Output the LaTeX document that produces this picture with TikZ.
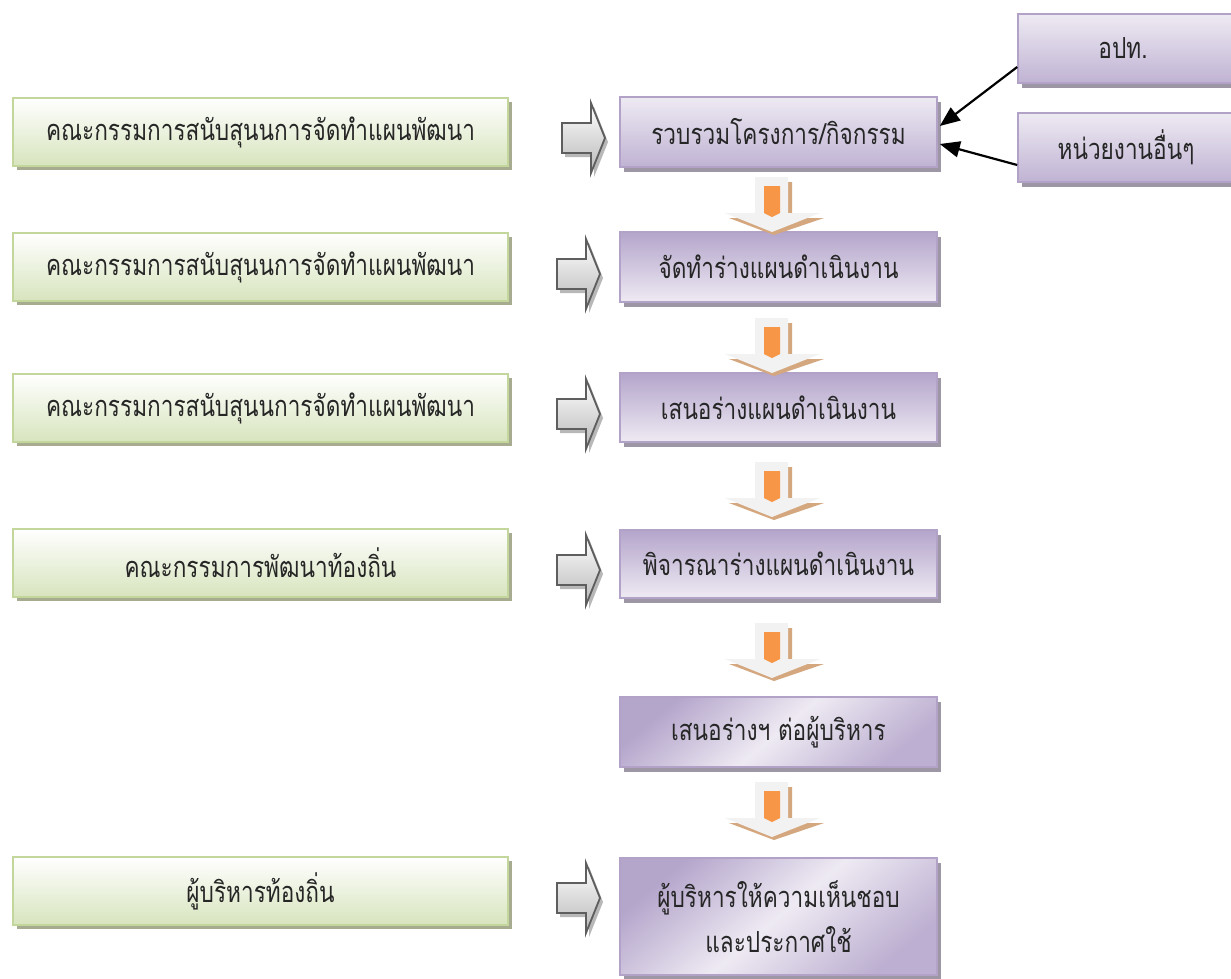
\documentclass[tikz,border=0pt]{standalone}
\usepackage{fontspec}
\newfontfamily\thaifont[Script=Thai,FakeStretch=0.78]{Loma}
\usetikzlibrary{shadows,calc,arrows.meta}
\definecolor{gborder}{HTML}{C3D69B}
\definecolor{gbot}{HTML}{D7E4BD}
\definecolor{gshadow}{HTML}{A7AC90}
\definecolor{pborder}{HTML}{B3A2C7}
\definecolor{pdark}{HTML}{B4A5CB}
\definecolor{plight}{HTML}{EEEAF3}
\definecolor{pshadow}{HTML}{9D97A5}
\definecolor{arrgrey}{HTML}{5E5E5E}
\definecolor{arrshadow}{HTML}{B8B8B8}
\definecolor{tan}{HTML}{D4A77F}
\definecolor{oarr}{HTML}{F79646}
\definecolor{warr}{HTML}{F2F2F2}
\tikzset{
  txt/.style={font=\thaifont\fontsize{29}{34}\selectfont, text=black!85, inner sep=0pt},
  gbox/.style={txt, draw=gborder, line width=1.6pt, top color=white, bottom color=gbot,
    minimum width=495pt, minimum height=68pt,
    drop shadow={shadow xshift=4pt, shadow yshift=-4pt, fill=gshadow, opacity=1}},
  pbase/.style={txt, draw=pborder, line width=1.6pt, minimum width=317pt,
    drop shadow={shadow xshift=4pt, shadow yshift=-5pt, fill=pshadow, opacity=1}},
  pup/.style={pbase, top color=plight, bottom color=pdark!80!plight},
  pdown/.style={pbase, top color=pdark, bottom color=plight},
  pdiag/.style={pbase, top color=pdark, bottom color=pdark!85!plight, middle color=plight, shading angle=40},
  conn/.style={line width=2.2pt, -{Triangle[length=20pt,width=16pt]}},
}
\newcommand\greyblockarrow[2]{%
  \fill[arrshadow] (#1+3,#2-15+4) -- (#1+29+3,#2-15+4) -- (#1+29+3,#2-35+4) -- (#1+43+3,#2+4)
    -- (#1+29+3,#2+35+4) -- (#1+29+3,#2+15+4) -- (#1+3,#2+15+4) -- cycle;
  \draw[arrgrey, line width=1.8pt, line join=miter, top color=white, bottom color=black!28]
    (#1,#2-15) -- (#1+29,#2-15) -- (#1+29,#2-35) -- (#1+43,#2)
    -- (#1+29,#2+35) -- (#1+29,#2+15) -- (#1,#2+15) -- cycle;}
\newcommand\orangedownarrow[1]{%
  \fill[tan] (755+4,#1+5) -- (788+4,#1+5) -- (788+4,#1+36+5) -- (820+4,#1+36+5) -- (772+2,#1+55+3)
    -- (725+4,#1+36+5) -- (755+4,#1+36+5) -- cycle;
  \fill[warr] (755,#1) -- (788,#1) -- (788,#1+36) -- (820,#1+36) -- (772,#1+55)
    -- (725,#1+36) -- (755,#1+36) -- cycle;
  \fill[oarr] (764,#1+9) -- (780,#1+9) -- (780,#1+36) -- (772,#1+40) -- (764,#1+36) -- cycle;}
\begin{document}
\begin{tikzpicture}[x=1pt,y=-1pt]
\useasboundingbox[fill=white] (0,0) rectangle (1231,978);
% left green boxes
\node[gbox] (g1) at (260.5,132) {คณะกรรมการสนับสุนนการจัดทำแผนพัฒนา};
\node[gbox] (g2) at (260.5,267) {คณะกรรมการสนับสุนนการจัดทำแผนพัฒนา};
\node[gbox] (g3) at (260.5,408) {คณะกรรมการสนับสุนนการจัดทำแผนพัฒนา};
\node[gbox] (g4) at (260.5,563) {คณะกรรมการพัฒนาท้องถิ่น};
\node[gbox] (g5) at (260.5,891) {ผู้บริหารท้องถิ่น};
% purple process boxes
\node[pup,   minimum height=70pt] (p1) at (778.5,132) {รวบรวมโครงการ/กิจกรรม};
\node[pdown, minimum height=70pt] (p2) at (778.5,267) {จัดทำร่างแผนดำเนินงาน};
\node[pdown, minimum height=69pt] (p3) at (778.5,407.5) {เสนอร่างแผนดำเนินงาน};
\node[pdown, minimum height=68pt] (p4) at (778.5,564) {พิจารณาร่างแผนดำเนินงาน};
\node[pdiag, minimum height=70pt] (p5) at (778.5,732) {เสนอร่างฯ ต่อผู้บริหาร};
\node[pdiag, minimum height=117pt, align=center, font=\thaifont\fontsize{29}{45}\selectfont] (p6) at (778.5,916.5) {ผู้บริหารให้ความเห็นชอบ\\และประกาศใช้};
% right boxes
\node[pup, minimum width=224pt, minimum height=69pt] (r1) at (1130,48.5) {\hspace*{-14pt}อปท.};
\node[pup, minimum width=224pt, minimum height=69pt] (r2) at (1130,147.5) {\hspace*{-8pt}หน่วยงานอื่นๆ};
% black connectors
\draw[conn] ($(r1.west)+(0,18.5)$) -- ($(p1.east)+(2,-6)$);
\draw[conn] ($(r2.west)+(0,17.5)$) -- ($(p1.east)+(2,12)$);
% grey block arrows
\greyblockarrow{562}{138}
\greyblockarrow{557}{274}
\greyblockarrow{557}{414}
\greyblockarrow{557}{570}
\greyblockarrow{557}{898}
% orange down arrows
\orangedownarrow{177}
\orangedownarrow{318}
\orangedownarrow{462}
\orangedownarrow{623}
\orangedownarrow{782}
\end{tikzpicture}
\end{document}
